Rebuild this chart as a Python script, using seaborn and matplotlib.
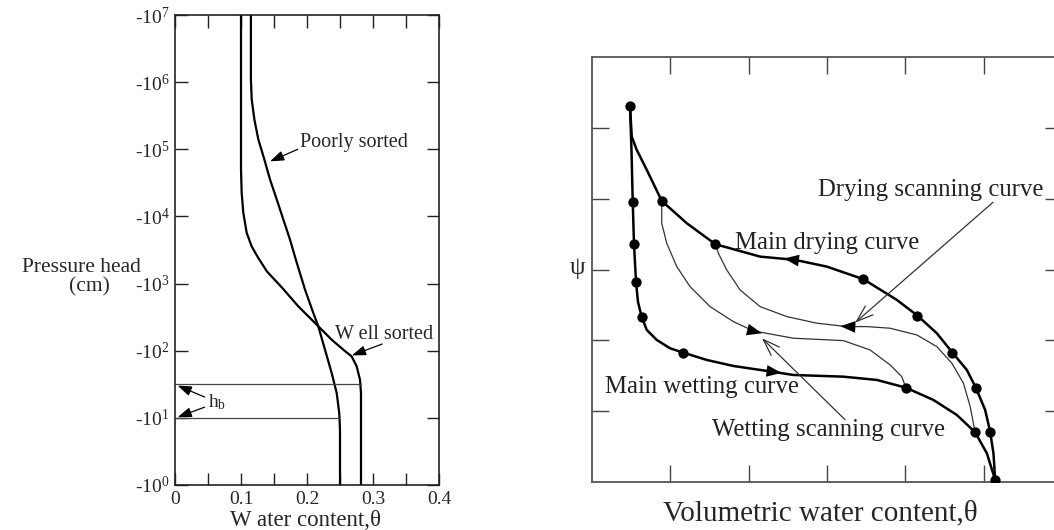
import matplotlib
matplotlib.use("Agg")
import matplotlib.pyplot as plt
import numpy as np
import pandas as pd
import seaborn as sns

# ---------------- Left panel data (theta vs log10|h|) ----------------
well_theta = [0.100, 0.100, 0.101, 0.1035, 0.1086, 0.1162, 0.1258, 0.1394, 0.1621,
              0.1868, 0.2147, 0.2374, 0.2550, 0.2677, 0.2753, 0.2803, 0.2818, 0.2818]
well_logh = [7.0, 4.70, 4.354, 4.055, 3.757, 3.552, 3.388, 3.179, 2.940,
             2.661, 2.388, 2.164, 2.015, 1.915, 1.766, 1.567, 1.369, 0.0]
poor_theta = [0.115, 0.115, 0.1162, 0.1202, 0.1262, 0.1353, 0.1439, 0.1541, 0.1641,
              0.1742, 0.1844, 0.1970, 0.2095, 0.2171, 0.2273, 0.2374, 0.2450,
              0.2489, 0.2500, 0.2500]
poor_logh = [7.0, 6.045, 5.746, 5.448, 5.149, 4.851, 4.552, 4.254, 3.955,
             3.657, 3.313, 2.910, 2.563, 2.363, 2.015, 1.667, 1.369,
             1.070, 0.821, 0.0]
hb_logh = [1.5, 1.0]
hb_theta = [0.2818, 0.2490]
left_xticks = [0, 0.1, 0.2, 0.3, 0.4]
left_xtick_labels = ["0", "0.1", "0.2", "0.3", "0.4"]
left_yticks = [0, 1, 2, 3, 4, 5, 6, 7]
left_ytick_labels = [r"-10$^{0}$", r"-10$^{1}$", r"-10$^{2}$", r"-10$^{3}$",
                     r"-10$^{4}$", r"-10$^{5}$", r"-10$^{6}$", r"-10$^{7}$"]

# ---------------- Right panel data (arbitrary units) ----------------
wet_x = [0.485, 0.504, 0.520, 0.536, 0.562, 0.587, 0.635, 0.699, 0.826, 0.996,
         1.166, 1.465, 1.805, 2.295, 2.571, 3.209, 3.636, 4.006, 4.359, 4.658,
         4.891, 5.041, 5.147]
wet_y = [5.315, 4.689, 3.959, 3.362, 2.825, 2.542, 2.326, 2.147, 2.006, 1.888,
         1.826, 1.723, 1.638, 1.558, 1.511, 1.487, 1.441, 1.332, 1.158, 0.946,
         0.702, 0.405, 0.028]
dry_x = [5.147, 5.125, 5.083, 5.019, 4.900, 4.785, 4.602, 4.402, 4.155, 3.891,
         3.465, 2.997, 2.593, 2.146, 1.575, 1.209, 0.890, 0.699, 0.571, 0.507, 0.485]
dry_y = [0.028, 0.405, 0.710, 1.017, 1.332, 1.582, 1.826, 2.100, 2.349, 2.571,
         2.863, 3.041, 3.136, 3.182, 3.357, 3.654, 3.969, 4.407, 4.689, 4.877, 5.315]
dscan_x = [4.891, 4.828, 4.742, 4.594, 4.402, 4.147, 3.806, 3.508, 3.253, 2.870,
           2.487, 2.146, 1.890, 1.720, 1.613, 1.575]
dscan_y = [0.702, 1.064, 1.394, 1.677, 1.911, 2.076, 2.171, 2.194, 2.194, 2.242,
           2.335, 2.476, 2.712, 2.994, 3.230, 3.357]
wscan_x = [0.890, 0.890, 0.954, 1.082, 1.252, 1.507, 1.805, 2.060, 2.571, 3.209,
           3.550, 3.806, 3.955, 4.006]
wscan_y = [3.969, 3.654, 3.371, 3.041, 2.758, 2.476, 2.264, 2.133, 2.030, 1.996,
           1.864, 1.653, 1.487, 1.332]
wet_dots_x = [0.485, 0.520, 0.536, 0.562, 0.635, 1.166, 4.006, 4.891, 5.147]
wet_dots_y = [5.315, 3.959, 3.362, 2.825, 2.326, 1.826, 1.332, 0.702, 0.028]
dry_dots_x = [5.083, 4.900, 4.602, 4.155, 3.465, 1.575, 0.890]
dry_dots_y = [0.710, 1.332, 1.826, 2.349, 2.863, 3.357, 3.969]

# ---------------- Style ----------------
sns.set_theme(style="white")
plt.rcParams["font.family"] = ["Liberation Serif", "DejaVu Serif"]
plt.rcParams["mathtext.fontset"] = "custom"
plt.rcParams["mathtext.rm"] = "Liberation Serif"
plt.rcParams["mathtext.it"] = "Liberation Serif:italic"

fig = plt.figure(figsize=(10.54, 5.30), dpi=100)

# ================= Left panel =================
axL = fig.add_axes([175 / 1054, 45 / 530, 264 / 1054, 470 / 530])
dfw = pd.DataFrame({"theta": well_theta, "logh": well_logh})
dfp = pd.DataFrame({"theta": poor_theta, "logh": poor_logh})
sns.lineplot(data=dfw, x="theta", y="logh", sort=False, estimator=None,
             color="black", lw=1.6, ax=axL)
sns.lineplot(data=dfp, x="theta", y="logh", sort=False, estimator=None,
             color="black", lw=1.6, ax=axL)
for yv, xv in zip(hb_logh, hb_theta):
    axL.plot([0, xv], [yv, yv], color="#444444", lw=0.9)

axL.set_xlim(0, 0.4)
axL.set_ylim(0, 7)
axL.set_xticks(left_xticks)
axL.set_xticklabels(left_xtick_labels, fontsize=14)
axL.set_xticks([0.05, 0.15, 0.25, 0.35], minor=True)
axL.set_yticks(left_yticks)
axL.set_yticklabels(left_ytick_labels, fontsize=14)
axL.tick_params(which="both", direction="in", top=True, right=True, left=True,
                bottom=True, length=9, width=1.0, color="#222222", pad=4)
axL.set_xlabel("")
axL.set_ylabel("")
for s in axL.spines.values():
    s.set_color("#222222")
    s.set_linewidth(1.2)

arrowL = dict(arrowstyle="-|>,head_length=0.7,head_width=0.25", color="black",
              lw=0.9, shrinkA=0, shrinkB=0)
axL.annotate("", xy=(0.144, 4.82), xytext=(0.186, 5.0), arrowprops=arrowL)
axL.text(0.189, 5.1, "Poorly sorted", fontsize=14.5, va="center", ha="left")
axL.annotate("", xy=(0.268, 1.93), xytext=(0.314, 2.10), arrowprops=arrowL)
axL.text(0.242, 2.24, "W ell sorted", fontsize=14.5, va="center", ha="left")
axL.annotate("", xy=(0.004, 1.48), xytext=(0.045, 1.31), arrowprops=arrowL)
axL.annotate("", xy=(0.004, 1.01), xytext=(0.045, 1.16), arrowprops=arrowL)
axL.text(0.05, 1.24, r"h$_{\mathrm{b}}$", fontsize=14, va="center", ha="left")

fig.text(81 / 1054, 1 - 268 / 530, "Pressure head", fontsize=15.5,
         ha="center", va="center")
fig.text(89 / 1054, 1 - 287 / 530, "(cm)", fontsize=15.5, ha="center", va="center")
fig.text(306 / 1054, 1 - 521 / 530, "W ater content,θ", fontsize=16.5,
         ha="center", va="center")

# ================= Right panel =================
axR = fig.add_axes([592 / 1054, 48 / 530, 470 / 1054, 425 / 530])
for xs, ys, lw, col in [(wet_x, wet_y, 1.8, "black"), (dry_x, dry_y, 1.8, "black"),
                        (dscan_x, dscan_y, 0.9, "#333333"),
                        (wscan_x, wscan_y, 0.9, "#333333")]:
    sns.lineplot(data=pd.DataFrame({"x": xs, "y": ys}), x="x", y="y", sort=False,
                 estimator=None, color=col, lw=lw, ax=axR)
sns.scatterplot(data=pd.DataFrame({"x": wet_dots_x + dry_dots_x,
                                   "y": wet_dots_y + dry_dots_y}),
                x="x", y="y", color="black", s=55, edgecolor="black",
                linewidth=0, zorder=5, ax=axR)

head = dict(arrowstyle="-|>,head_length=0.9,head_width=0.35", color="black",
            lw=0.01, shrinkA=0, shrinkB=0)
# curve direction arrows
axR.annotate("", xy=(2.42, 1.54), xytext=(2.25, 1.565), arrowprops=head)
axR.annotate("", xy=(2.45, 3.155), xytext=(2.65, 3.125), arrowprops=head)
axR.annotate("", xy=(3.17, 2.20), xytext=(3.35, 2.19), arrowprops=head)
axR.annotate("", xy=(2.17, 2.10), xytext=(1.99, 2.15), arrowprops=head)

open_arrow = dict(arrowstyle="->,head_length=1.0,head_width=0.35", color="#333333",
                  lw=0.9, shrinkA=0, shrinkB=0)
axR.annotate("", xy=(3.36, 2.25), xytext=(5.12, 3.95), arrowprops=open_arrow)
axR.annotate("", xy=(2.17, 2.03), xytext=(3.23, 0.88), arrowprops=open_arrow)

axR.text(2.886, 4.124, "Drying scanning curve", fontsize=17.8, ha="left",
         va="center", color="#222222")
axR.text(1.826, 3.376, "Main drying curve", fontsize=17.8, ha="left",
         va="center", color="#222222")
axR.text(0.166, 1.342, "Main wetting curve", fontsize=17.8, ha="left",
         va="center", color="#222222")
axR.text(1.530, 0.734, "Wetting scanning curve", fontsize=17.8, ha="left",
         va="center", color="#222222")

axR.set_xlim(0, 6)
axR.set_ylim(0, 6)
axR.set_xticks([1, 2, 3, 4, 5])
axR.set_yticks([1, 2, 3, 4, 5])
axR.set_xticklabels([])
axR.set_yticklabels([])
axR.tick_params(which="both", direction="in", top=True, right=True, left=True,
                bottom=True, length=12, width=1.0, color="#444444")
axR.set_xlabel("")
axR.set_ylabel("")
for s in axR.spines.values():
    s.set_color("#555555")
    s.set_linewidth(1.3)

fig.text(577 / 1054, 1 - 268 / 530, "ψ", fontsize=18, ha="center", va="center")
fig.text(820 / 1054, 1 - 513 / 530, "Volumetric water content,θ", fontsize=21,
         ha="center", va="center")

fig.savefig("out.png", dpi=100)
